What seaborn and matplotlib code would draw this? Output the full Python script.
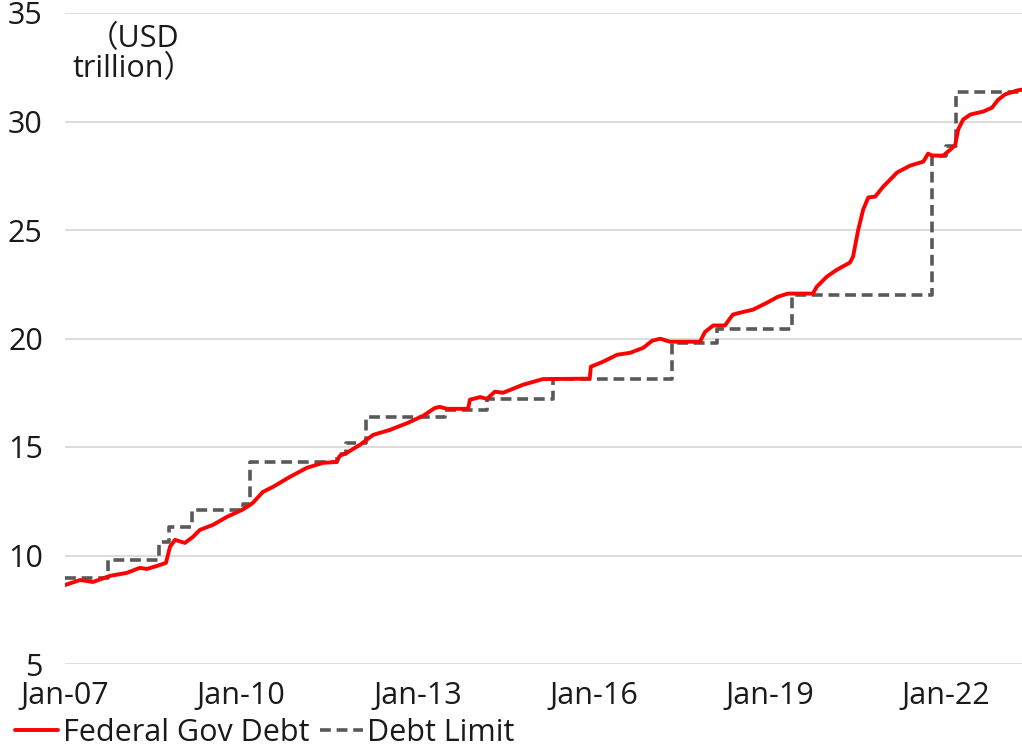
import matplotlib
matplotlib.use("Agg")
import matplotlib.pyplot as plt
import matplotlib.dates as mdates
import pandas as pd
import seaborn as sns

# dívida federal (USD trilhões)
debt_dates = ["2007-01-01", "2007-04-05", "2007-06-24", "2007-10-07", "2008-01-21",
              "2008-04-10", "2008-05-25", "2008-07-26", "2008-09-20", "2008-10-15",
              "2008-11-15", "2009-01-16", "2009-03-07", "2009-04-19", "2009-07-09",
              "2009-10-04", "2010-01-06", "2010-02-25", "2010-03-15", "2010-05-16",
              "2010-07-17", "2010-10-30", "2011-02-13", "2011-05-25", "2011-08-18",
              "2011-09-06", "2011-10-19", "2012-01-10", "2012-04-01", "2012-07-15",
              "2012-10-29", "2013-02-07", "2013-04-20", "2013-05-21", "2013-07-04",
              "2013-11-12", "2013-11-24", "2014-01-26", "2014-03-10", "2014-04-28",
              "2014-06-18", "2014-10-20", "2015-02-21", "2015-12-09", "2015-12-16",
              "2016-03-01", "2016-05-27", "2016-08-16", "2016-11-06", "2017-01-01",
              "2017-02-20", "2017-04-22", "2017-10-25", "2017-11-25", "2018-01-15",
              "2018-03-29", "2018-05-17", "2018-07-01", "2018-09-20", "2018-12-16",
              "2019-02-23", "2019-04-26", "2019-09-27", "2019-10-22", "2019-12-23",
              "2020-02-24", "2020-05-15", "2020-06-03", "2020-07-05", "2020-08-05",
              "2020-09-06", "2020-10-19", "2020-12-08", "2021-03-04", "2021-05-25",
              "2021-08-14", "2021-09-13", "2021-10-08", "2021-12-17", "2022-02-28",
              "2022-03-19", "2022-04-19", "2022-06-02", "2022-08-22", "2022-10-16",
              "2022-11-22", "2023-01-05", "2023-03-21", "2023-04-20"]
debt_values = [8.64, 8.87, 8.78, 9.06, 9.20,
               9.43, 9.38, 9.52, 9.66, 10.40,
               10.72, 10.58, 10.86, 11.18, 11.41,
               11.78, 12.10, 12.33, 12.43, 12.93,
               13.16, 13.62, 14.04, 14.27, 14.31,
               14.59, 14.73, 15.10, 15.56, 15.79,
               16.10, 16.44, 16.80, 16.85, 16.76,
               16.76, 17.18, 17.30, 17.22, 17.55,
               17.50, 17.87, 18.13, 18.15, 18.70,
               18.93, 19.25, 19.34, 19.57, 19.90,
               19.99, 19.85, 19.85, 20.30, 20.60,
               20.60, 21.10, 21.19, 21.33, 21.65,
               21.93, 22.07, 22.07, 22.39, 22.85,
               23.17, 23.50, 23.77, 25.00, 25.94,
               26.50, 26.54, 27.00, 27.65, 27.97,
               28.15, 28.52, 28.43, 28.43, 28.90,
               29.63, 30.09, 30.32, 30.46, 30.64,
               31.00, 31.25, 31.43, 31.47]

# teto da dívida (degraus)
limit_dates = ["2007-01-01", "2007-09-25", "2008-08-08", "2008-10-09", "2009-03-01",
               "2010-01-12", "2010-02-25", "2011-08-18", "2011-10-15", "2012-02-16",
               "2013-06-21", "2014-03-10", "2015-04-23", "2017-05-04", "2018-02-09",
               "2019-05-21", "2021-10-08", "2022-01-04", "2022-03-07", "2023-04-20"]
limit_values = [8.965, 9.815, 10.615, 11.315, 12.104,
                12.394, 14.294, 14.694, 15.194, 16.394,
                16.699, 17.212, 18.113, 19.809, 20.456,
                21.988, 28.401, 28.881, 31.381, 31.381]

tick_years = ["2007-01-01", "2010-01-01", "2013-01-01", "2016-01-01", "2019-01-01", "2022-01-01"]
y_ticks = [5, 10, 15, 20, 25, 30, 35]

debt = pd.DataFrame({"date": pd.to_datetime(debt_dates), "value": debt_values})
limit = pd.DataFrame({"date": pd.to_datetime(limit_dates), "value": limit_values})

sns.set_theme(style="white")
plt.rcParams["font.family"] = ["Open Sans", "Noto Sans CJK JP", "DejaVu Sans"]
fs = 22

fig = plt.figure(figsize=(10.22, 7.5), dpi=100)
ax = fig.add_axes([65 / 1022, 86 / 750, 957 / 1022, 651 / 750])

sns.lineplot(data=limit, x="date", y="value", ax=ax, color="#595959", linewidth=2.6,
             linestyle=(0, (3, 1.6)), drawstyle="steps-post", label="Debt Limit")
sns.lineplot(data=debt, x="date", y="value", ax=ax, color="#FF0000", linewidth=2.8,
             label="Federal Gov Debt")

ax.set_ylim(5, 35)
ax.set_yticks(y_ticks)
ax.set_xlim(pd.Timestamp("2007-01-01"), pd.Timestamp("2023-04-20"))
ax.set_xticks(pd.to_datetime(tick_years))
ax.xaxis.set_major_formatter(mdates.DateFormatter("%b-%y"))
ax.set_xlabel("")
ax.set_ylabel("")
ax.grid(axis="y", color="#D9D9D9", linewidth=1.3)
ax.set_axisbelow(True)
for s in ax.spines.values():
    s.set_visible(False)
ax.tick_params(axis="y", length=0, pad=16, labelsize=fs, colors="#1a1a1a")
ax.tick_params(axis="x", length=0, pad=12, labelsize=fs, colors="#1a1a1a")

ax.text(0.072, 0.937, "（USD\ntrillion）", transform=ax.transAxes, ha="center",
        va="center", fontsize=fs, color="#1a1a1a", linespacing=1.0)

handles, labels = ax.get_legend_handles_labels()
ax.get_legend().remove()
fig.legend(handles[::-1], labels[::-1], loc="center left", bbox_to_anchor=(0.003, 0.023),
           ncol=2, frameon=False, fontsize=fs, handlelength=1.4, handletextpad=0.15,
           columnspacing=0.35, borderaxespad=0, labelcolor="#1a1a1a")

fig.savefig("out.png", dpi=100)
